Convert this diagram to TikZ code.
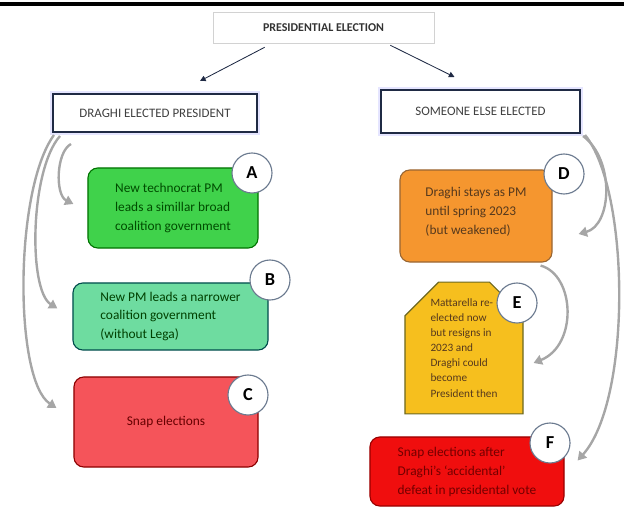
\documentclass[tikz,border=0pt]{standalone}
\usepackage{fontspec}
\setmainfont{Carlito}
\usetikzlibrary{arrows.meta,calc,shapes.misc}

\definecolor{navy}{HTML}{1F2A44}
\definecolor{flowgray}{HTML}{A6A6A6}
\definecolor{circline}{HTML}{6B7A8F}
\definecolor{agreen}{HTML}{40D24B}
\definecolor{bmint}{HTML}{6EDCA0}
\definecolor{cred}{HTML}{F5545A}
\definecolor{dorange}{HTML}{F5962F}
\definecolor{egold}{HTML}{F6BF1E}
\definecolor{fred}{HTML}{F00E0E}

\tikzset{
	topbox/.style={draw=gray!35, fill=white, minimum width=5.525cm, minimum height=0.775cm,
		font=\fontsize{8.5}{10}\selectfont\bfseries, text=black!80},
	headbox/.style={draw=navy, line width=1.4pt, fill=white, preaction={draw=blue!10, line width=4pt},
		font=\fontsize{9.2}{11}\selectfont, text=black!75},
	optbox/.style={rounded corners=7pt, line width=0.8pt, align=left, inner sep=0pt,
		font=\fontsize{9.5}{13.5}\selectfont},
	letter/.style={circle, draw=circline, fill=white, line width=0.8pt, minimum size=1cm,
		inner sep=0pt, font=\fontsize{13}{13}\selectfont\bfseries},
	flow/.style={draw=flowgray, line width=1.7pt, -{Triangle[width=7pt,length=6pt]}},
	pick/.style={draw=navy, line width=0.6pt, -{Triangle[width=4pt,length=4pt]}}
}

\begin{document}
\begin{tikzpicture}[x=0.025cm,y=-0.025cm]
				\useasboundingbox (0,0) rectangle (624,510);
				\draw[line width=2.2pt] (0,4) -- (624,4);
				% the vote and its two outcomes
				\node[topbox] (top) at (323.5,27.5) {PRESIDENTIAL ELECTION};
				\node[headbox, minimum width=5.1cm, minimum height=0.95cm] (left) at (155,113) {DRAGHI ELECTED PRESIDENT};
				\node[headbox, minimum width=4.975cm, minimum height=1.075cm] (right) at (480.5,111.5) {SOMEONE ELSE ELECTED};
				\draw[pick] ($(top.south west)+(52,4)$) -- ($(left.north)+(45,-12)$);
				\draw[pick] ($(top.south east)+(-44,2)$) -- ($(right.north)+(-26,-12)$);
				% scenarios
				\node[optbox, draw=green!45!black, fill=agreen, text=green!30!black, minimum width=4.25cm, minimum height=2cm] (a) at (173,208)
					{New technocrat PM\\leads a simillar broad\\coalition government};
				\node[optbox, draw=teal!60!black, fill=bmint, text=green!25!black, minimum width=4.875cm, minimum height=1.675cm] (b) at (170.5,316.5)
					{New PM leads a narrower\\coalition government\\(without Lega)};
				\node[optbox, draw=red!55!black, fill=cred, text=red!40!black, minimum width=4.6cm, minimum height=2.25cm] (c) at (166,422)
					{Snap elections};
				\node[optbox, draw=brown!80!black, fill=dorange, text=brown!45!black, minimum width=3.8cm, minimum height=2.3cm,
					text depth=0.25cm] (d) at (476,216)
					{Draghi stays as PM\\until spring 2023\\(but weakened)};
				\node[chamfered rectangle, chamfered rectangle corners={north west,north east}, chamfered rectangle xsep=0.42cm,
					chamfered rectangle ysep=0.42cm, draw=olive!70!black, line width=0.8pt, fill=egold, text=brown!45!black,
					align=left, inner sep=0pt, minimum width=2.95cm, minimum height=3.25cm, font=\fontsize{8}{10.7}\selectfont] (e) at (464,348)
					{Mattarella re-\\elected now\\but resigns in\\2023 and\\Draghi could\\become\\President then};
				\node[optbox, draw=red!60!black, fill=fred, text=red!45!black, minimum width=4.85cm, minimum height=1.725cm] (f) at (467,471.5)
					{Snap elections after\\Draghi's `accidental'\\defeat in presidental vote};
				% gray paths
				\draw[flow] ($(left.south west)+(19,11)$) .. controls (56,152) and (55,195) .. ($(a.west)+(-14,-4)$);
				\draw[flow] ($(left.south west)+(8,3)$) .. controls (30,170) and (28,290) .. ($(b.west)+(-15,-8)$);
				\draw[flow] ($(left.south west)+(2,2)$) .. controls (14,190) and (14,380) .. ($(c.west)+(-17,-14)$);
				\draw[flow] ($(right.south east)+(2,2)$) .. controls (615,160) and (612,225) .. ($(d.east)+(26,18)$);
				\draw[flow] ($(right.south east)+(4,1)$) .. controls (630,190) and (632,400) .. ($(f.east)+(13,-11)$);
				\draw[flow] ($(d.south east)+(-12,3)$) .. controls (575,275) and (578,345) .. ($(e.east)+(10,15)$);
				% letters
				\node[letter] (la) at (252,173) {A};
				\node[letter] (lb) at (270,280) {B};
				\node[letter] (lc) at (248,395) {C};
				\node[letter] (ld) at (564,174) {D};
				\node[letter] (le) at (517,303) {E};
				\node[letter] (lf) at (550,443) {F};
\end{tikzpicture}
\end{document}
